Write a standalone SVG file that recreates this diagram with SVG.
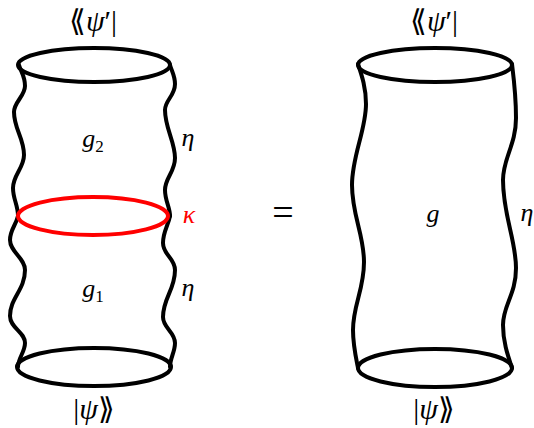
<svg xmlns="http://www.w3.org/2000/svg" width="534" height="428" viewBox="0 0 534 428">
<style>
.s{fill:none;stroke:#000;stroke-width:4;stroke-linecap:round;stroke-linejoin:round}
.r{fill:none;stroke:#ff0000;stroke-width:4}
text{font-family:'Liberation Serif','DejaVu Serif',serif;font-size:26px;fill:#000;text-anchor:middle}
.i{font-style:italic}
.sub{font-size:17px;font-style:normal}
.big{font-size:30px}
</style>
<rect width="534" height="428" fill="#fff"/>
<g id="left-cylinder">
<g id="left-edges" class="s">
<path d="M19,65 C21,72 25,76 25,86 C25,96 14,102 14,112 C14,129 24,138 24,155 C24,168 13,175 13,188 C13,199 18,205 18,216"/>
<path d="M170,65 C172,72 175,76 175,84 C175,96 165,100 165,110 C165,128 175,142 175,158 C175,172 165,178 165,190 C165,201 170,207 170,216"/>
<path d="M18,216 C16,225 10,230 10,240 C10,252 25,258 25,270 C25,290 10,298 10,316 C10,328 25,332 25,343 C25,352 18,358 18,367"/>
<path d="M170,216 C168,226 163,232 163,243 C163,255 175,258 175,270 C175,290 163,298 163,317 C163,328 175,332 175,343 C175,352 170,358 170,367"/>
</g>
<ellipse id="left-top" class="s" cx="94" cy="65" rx="76" ry="17"/>
<ellipse id="left-bottom" class="s" cx="94" cy="367" rx="77" ry="19"/>
</g>
<g id="kappa-loop">
<ellipse class="r" cx="93" cy="216" rx="75" ry="19"/>
<text class="i" x="189" y="223" style="fill:#ff0000">κ</text>
</g>
<g id="label-top-left"><text class="big" x="93" y="31">⟪<tspan class="i">ψ</tspan>′|</text></g>
<g id="label-bottom-left"><text class="big" x="94" y="419">|<tspan class="i">ψ</tspan>⟫</text></g>
<g id="g2"><text x="93" y="147"><tspan class="i">g</tspan><tspan class="sub" dy="5">2</tspan></text></g>
<g id="g1"><text x="93" y="297"><tspan class="i">g</tspan><tspan class="sub" dy="5">1</tspan></text></g>
<g id="eta-upper"><text class="i" x="188" y="146">η</text></g>
<g id="eta-lower"><text class="i" x="188" y="296">η</text></g>
<g id="equals"><text x="283" y="225" style="font-size:38px">=</text></g>
<g id="right-cylinder">
<g id="right-edges" class="s">
<path d="M358,64 C362,76 366,88 366,104 C366,130 352,156 352,185 C352,215 364,235 364,262 C364,290 353,305 353,330 C353,345 356,358 358,368"/>
<path d="M512,64 C514,80 516,95 516,118 C516,145 503,158 503,180 C503,215 516,240 516,268 C516,295 503,305 503,325 C503,342 508,356 512,368"/>
</g>
<ellipse id="right-top" class="s" cx="435" cy="65" rx="77" ry="17"/>
<ellipse id="right-bottom" class="s" cx="435" cy="368" rx="77" ry="19"/>
</g>
<g id="g"><text class="i" x="433" y="222">g</text></g>
<g id="eta-right"><text class="i" x="527" y="221">η</text></g>
<g id="label-top-right"><text class="big" x="434" y="31">⟪<tspan class="i">ψ</tspan>′|</text></g>
<g id="label-bottom-right"><text class="big" x="434" y="419">|<tspan class="i">ψ</tspan>⟫</text></g>
</svg>
